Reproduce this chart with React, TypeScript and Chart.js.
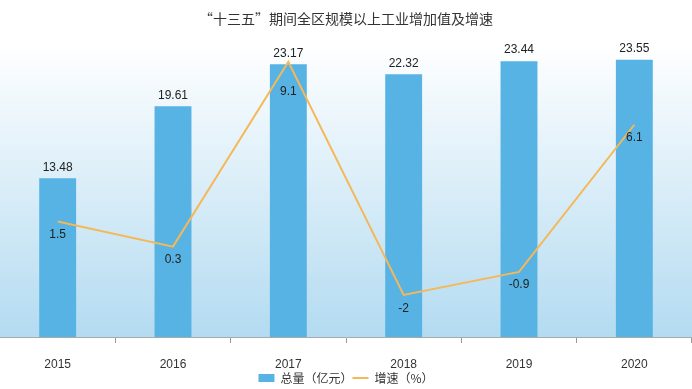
import React, { useEffect, useRef } from "react";
import { Chart, registerables } from "chart.js";

Chart.register(...registerables);

const categories = ["2015", "2016", "2017", "2018", "2019", "2020"];
const totals = [13.48, 19.61, 23.17, 22.32, 23.44, 23.55];
const growth = [1.5, 0.3, 9.1, -2, -0.9, 6.1];
const titleText = "“十三五”期间全区规模以上工业增加值及增速";
const barLabel = "总量（亿元）";
const lineLabel = "增速（%）";

const FONT = "'Liberation Sans', 'Noto Sans CJK SC', sans-serif";
const CJK = "'Noto Sans CJK SC', 'Liberation Sans', sans-serif";
const lineLabelOffsets = [13, 13, 30, 14, 13, 13];

const bgPlugin = {
  id: "bgGradient",
  beforeDatasetsDraw(chart: any) {
    const { ctx, chartArea } = chart;
    if (!chartArea) return;
    const g = ctx.createLinearGradient(0, chartArea.top, 0, chartArea.bottom);
    g.addColorStop(0, "#ffffff");
    g.addColorStop(1, "#b3dbf1");
    ctx.save();
    ctx.fillStyle = g;
    ctx.fillRect(chartArea.left, chartArea.top, chartArea.right - chartArea.left, chartArea.bottom - chartArea.top);
    ctx.restore();
  },
};

const labelPlugin = {
  id: "valueLabels",
  afterDatasetsDraw(chart: any) {
    const { ctx } = chart;
    ctx.save();
    ctx.font = `12px ${FONT}`;
    ctx.textAlign = "center";
    ctx.textBaseline = "middle";
    ctx.fillStyle = "#222";
    chart.data.datasets.forEach((ds: any, di: number) => {
      const meta = chart.getDatasetMeta(di);
      meta.data.forEach((el: any, i: number) => {
        const v = ds.data[i];
        if (ds.type === "bar") {
          ctx.fillText(String(v), el.x, el.y - 11);
        } else {
          ctx.fillText(String(v), el.x, el.y + lineLabelOffsets[i]);
        }
      });
    });
    ctx.restore();
  },
};

export default function App() {
  const ref = useRef<HTMLCanvasElement>(null);
  useEffect(() => {
    if (!ref.current) return;
    const chart = new Chart(ref.current, {
      type: "bar",
      data: {
        labels: categories,
        datasets: [
          {
            type: "bar",
            label: barLabel,
            data: totals,
            backgroundColor: "#57b3e3",
            borderWidth: 0,
            yAxisID: "y",
            order: 1,
            barPercentage: 0.32,
            categoryPercentage: 1,
            pointStyle: "rect",
          } as any,
          {
            type: "line",
            label: lineLabel,
            data: growth,
            borderColor: "#f5b859",
            backgroundColor: "#f5b859",
            borderWidth: 2,
            pointRadius: 0,
            pointStyle: "line",
            tension: 0,
            yAxisID: "y1",
            order: 0,
          } as any,
        ],
      },
      options: {
        responsive: false,
        animation: false,
        layout: { padding: { left: 0, right: 0, bottom: 0, top: 0 } },
        plugins: {
          tooltip: { enabled: false },
          title: {
            display: true,
            text: titleText,
            color: "#333",
            font: { family: CJK, size: 14, weight: "normal", lineHeight: 1.2 },
            padding: { top: 10, bottom: 16 },
          },
          legend: {
            position: "bottom",
            reverse: true,
            maxHeight: 17,
            labels: {
              usePointStyle: true,
              pointStyleWidth: 16,
              boxHeight: 8,
              color: "#333",
              font: { family: CJK, size: 12 },
              padding: 0,
            },
          },
        },
        scales: {
          x: {
            offset: true,
            afterFit: (scale: any) => {
              scale.height = 35;
            },
            grid: {
              display: true,
              drawOnChartArea: false,
              offset: true,
              tickLength: 6,
              color: "#999",
            },
            border: { display: true, color: "#aaa" },
            ticks: { color: "#333", font: { family: FONT, size: 12 }, padding: 14 },
          },
          y: { display: false, min: 0, max: 25 },
          y1: { display: false, min: -4, max: 10, position: "right" },
        },
      },
      plugins: [bgPlugin, labelPlugin],
    });
    return () => chart.destroy();
  }, []);
  return (
    <div style={{ position: "fixed", left: 0, top: 0, width: 692, height: 389, background: "#fff" }}>
      <canvas ref={ref} width={692} height={389} />
    </div>
  );
}
